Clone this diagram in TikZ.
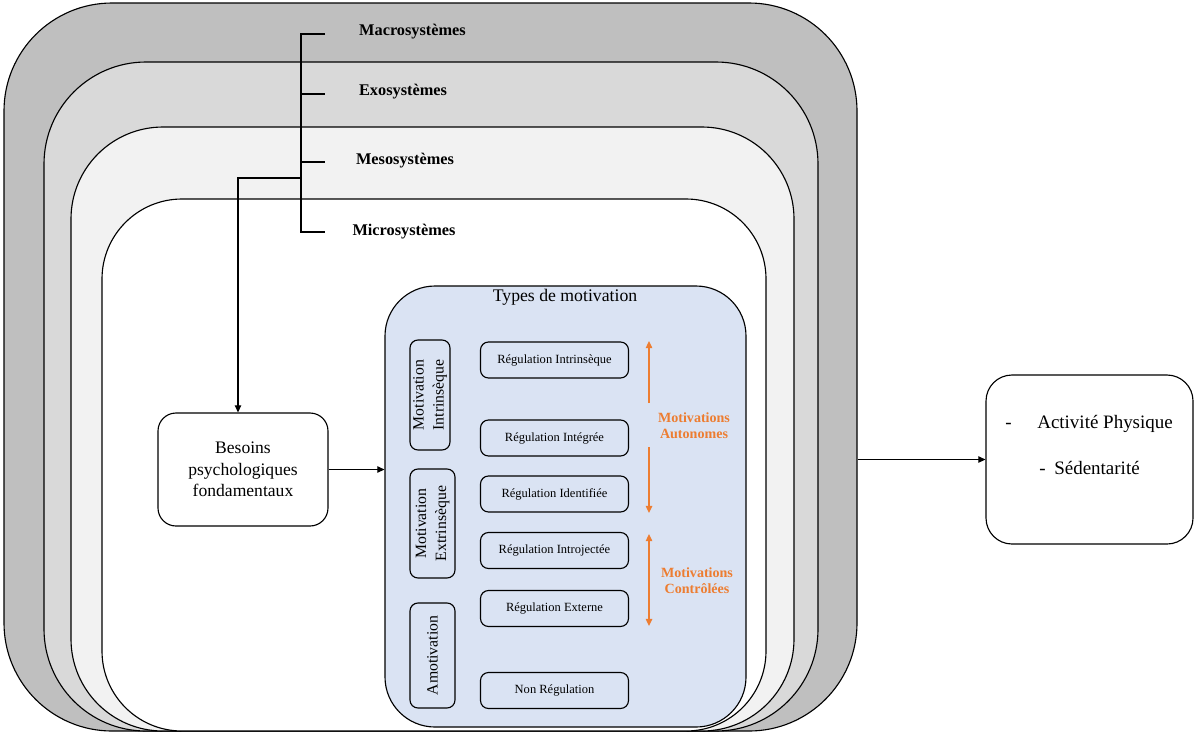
\documentclass[tikz,border=0pt]{standalone}
\usepackage{fontspec}
\setmainfont{Liberation Serif}
\usetikzlibrary{arrows.meta}
\definecolor{macroc}{HTML}{BFBFBF}
\definecolor{exoc}{HTML}{D9D9D9}
\definecolor{mesoc}{HTML}{F2F2F2}
\definecolor{motc}{HTML}{DAE3F3}
\definecolor{orangec}{HTML}{ED7D31}
\newcommand\pxu{0.025cm}
\begin{document}
\begin{tikzpicture}[x=0.025cm,y=-0.025cm,
  layer/.style={draw=black, line width=0.8pt, inner sep=0pt},
  syslabel/.style={font=\fontsize{11.6}{13}\selectfont\bfseries, inner sep=0pt},
  regbox/.style={draw=black, line width=0.8pt, rounded corners=8*\pxu, minimum width=148*\pxu, minimum height=36*\pxu, inner sep=0pt, font=\fontsize{8.9}{10}\selectfont},
  motbox/.style={draw=black, line width=0.8pt, rounded corners=8*\pxu, inner sep=0pt, rotate=90, align=center, font=\fontsize{11.2}{14.2}\selectfont},
  orlabel/.style={text=orangec, font=\fontsize{10}{11.5}\selectfont\bfseries, align=center, inner sep=0pt},
  arr/.style={line width=0.8pt, -{Triangle[length=5pt,width=4.5pt]}},
  orarr/.style={draw=orangec, line width=1pt, -{Triangle[length=5pt,width=4.5pt]}},
  restext/.style={font=\fontsize{13.5}{16}\selectfont, inner sep=0pt, anchor=base west}
]
\useasboundingbox (0,0) rectangle (1195,733);

% nested systems
\node[layer, fill=macroc, rounded corners=108*\pxu, minimum width=853*\pxu, minimum height=728*\pxu] (macro) at (430.5,367) {};
\node[layer, fill=exoc, rounded corners=102*\pxu, minimum width=774*\pxu, minimum height=669*\pxu] (exo) at (431,396.5) {};
\node[layer, fill=mesoc, rounded corners=92*\pxu, minimum width=723*\pxu, minimum height=604*\pxu] (meso) at (432.5,429) {};
\node[layer, fill=white, rounded corners=80*\pxu, minimum width=664*\pxu, minimum height=532*\pxu] (micro) at (434,465) {};

% bracket labels
\node[syslabel] (lmacro) at (412.5,32) {Macrosystèmes};
\node[syslabel] (lexo) at (403,92) {Exosystèmes};
\node[syslabel] (lmeso) at (405,161) {Mesosystèmes};
\node[syslabel] (lmicro) at (404,232) {Microsystèmes};
\coordinate (btop) at (301,34);
\coordinate (bbot) at (301,232);
\coordinate (bbr) at (301,178);
\draw[line width=0.8pt] (325,34) -- (btop) -- (bbot) -- (325,232);
\draw[line width=0.8pt] (btop |- 0,94) -- (325,94);
\draw[line width=0.8pt] (btop |- 0,162) -- (325,162);

% besoins
\node[layer, rounded corners=18*\pxu, minimum width=170*\pxu, minimum height=113*\pxu, align=center, font=\fontsize{12.5}{15.3}\selectfont] (besoins) at (243,469.5) {Besoins\\psychologiques\\fondamentaux};
\draw[arr] (bbr) -| ([xshift=-5*\pxu]besoins.north);

% motivation box
\node[layer, fill=motc, rounded corners=50*\pxu, minimum width=361*\pxu, minimum height=441*\pxu] (types) at (565.5,506.5) {};
\node[font=\fontsize{12.6}{14}\selectfont, inner sep=0pt] (ttypes) at (565,297) {Types de motivation};
\draw[arr] (besoins.east) -- (besoins.east -| types.west);

% left vertical boxes
\node[motbox, minimum width=110*\pxu, minimum height=40*\pxu] (mi) at (430,395) {Motivation\\Intrinsèque};
\node[motbox, minimum width=109*\pxu, minimum height=45*\pxu] (me) at (432.5,523.5) {Motivation\\Extrinsèque};
\node[motbox, minimum width=105*\pxu, minimum height=45*\pxu] (am) at (432.5,655.5) {Amotivation};

% regulation boxes
\node[regbox] (r1) at (554.5,360) {Régulation Intrinsèque};
\node[regbox] (r2) at (554.5,438) {Régulation Intégrée};
\node[regbox] (r3) at (554.5,494) {Régulation Identifiée};
\node[regbox] (r4) at (554.5,550.5) {Régulation Introjectée};
\node[regbox] (r5) at (554.5,608.5) {Régulation Externe};
\node[regbox] (r6) at (554.5,690.5) {Non Régulation};

% orange arrows and labels
\node[orlabel] (auto) at (694,426) {Motivations\\Autonomes};
\node[orlabel] (ctrl) at (697,581) {Motivations\\Contrôlées};
\coordinate (a1) at (649,403);
\coordinate (a1t) at (649,341);
\coordinate (a2) at (649,447);
\coordinate (a2t) at (649,513);
\coordinate (c1) at (649,534);
\coordinate (c2) at (649,626);
\draw[orarr] (a1) -- (a1t);
\draw[orarr] (a2) -- (a2t);
\draw[orarr, {Triangle[length=5pt,width=4.5pt]}-{Triangle[length=5pt,width=4.5pt]}] (c1) -- (c2);

% result box
\node[layer, rounded corners=26*\pxu, minimum width=207*\pxu, minimum height=169*\pxu] (res) at (1089.5,459.5) {};
\draw[arr] (res.west -| macro.east) -- (res.west);
\node[restext] (d1) at (1005,428) {-};
\node[restext] (t1) at (1037,428) {Activité Physique};
\node[restext] (d2) at (1039,474) {-};
\node[restext] (t2) at (1054,474) {Sédentarité};
\end{tikzpicture}
\end{document}
